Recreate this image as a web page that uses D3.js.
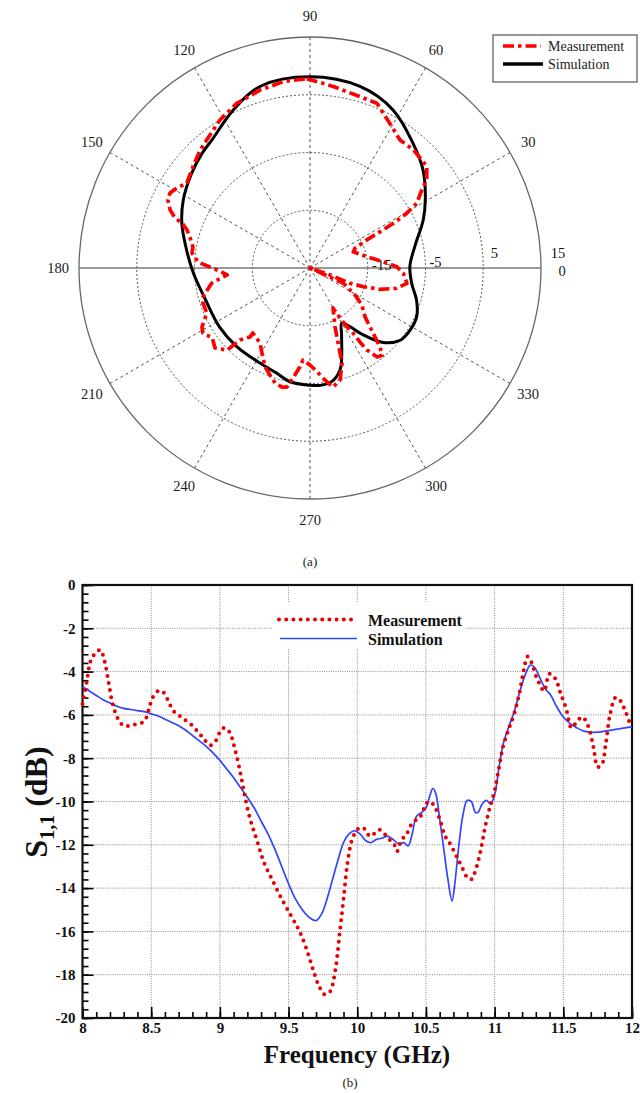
<!DOCTYPE html>
<html><head><meta charset="utf-8">
<script src="https://cdn.jsdelivr.net/npm/d3@7"></script>
<style>body{margin:0;background:#fff} svg text{font-family:"Liberation Serif","Times New Roman",serif}</style>
</head><body><svg id="c" width="640" height="1093"></svg>
<script>
// ---------- DATA (a) radiation pattern, angle in degrees, gain in dB ----------
const simAngles = [90,74.6,62.2,50.4,40.9,31,23,12,1,351.5,343,335.5,328.2,321.3,314.5,308.5,304.3,300,295.3,289,286.4,281,275,270,260,252.4,242.3,227,213,197.2,182.6,171.7,160.8,151.8,141.7,133.8,127,115.9,105.4];
const simGain = [8.1,7.6,5.9,3.0,0.9,-1.7,-3.7,-6.4,-7.7,-7.2,-5.7,-4.7,-4.6,-5.0,-6.9,-10.2,-12.7,-14.0,-12.2,-8.2,-6.6,-5.0,-4.6,-4.7,-5.0,-5.9,-6.4,-6.4,-6.3,-6.1,-4.8,-3.4,-1.5,-0.1,1.2,2.2,3.0,5.4,7.6];
const measAngles = [91,82.7,73.7,67.9,61.1,54.9,48.8,41,37,34.9,31.2,29.5,28.2,27.4,26.3,23.6,20.6,11.3,4.9,0.9,356.7,351,346.8,343.1,340.7,339.1,340.7,335,335.6,331.2,330.8,324.6,318.3,315.5,313.3,311.5,309.6,307,304.8,304,303.5,302.1,301,299.9,293,290.5,288.6,285,280.9,277.6,273.9,270,265.6,264.2,261.2,259.1,256.8,253.1,249.5,245.6,240.5,236.3,228.7,229,225.8,224.7,220.1,215.5,211.3,208.6,203.6,198.1,195.2,192.1,188.7,187.4,184.8,182.6,181.2,178.4,176.9,172.8,169.8,165.5,162.8,160.6,159.7,157.5,154.4,151.8,149,145.4,139.2,133,128.9,121.3,114,105.7,98.2];
const measGain = [7.8,6.7,5.9,5.8,3.6,2.1,2.2,1.8,0.3,-1.4,-3.4,-5.8,-8.6,-11.3,-14.1,-16.5,-17.0,-15.0,-12.3,-10.0,-8.8,-8.0,-9.6,-12.3,-15.2,-17.6,-21.3,-25,-18.7,-17.1,-16.5,-14.0,-12.2,-10.4,-8.6,-6.7,-5.4,-5.7,-7.7,-9.5,-11.5,-13.0,-14.9,-17.0,-13.9,-11.1,-7.6,-4.9,-4.0,-5.4,-7.0,-8.2,-9.0,-7.8,-5.7,-4.0,-3.8,-4.2,-5.2,-6.2,-8.1,-9.4,-10.0,-9.2,-7.6,-4.8,-3.5,-4.2,-3.3,-3.7,-5.5,-5.5,-5.8,-6.8,-7.8,-8.8,-10.6,-9.7,-8.9,-6.8,-5.6,-4.4,-4.4,-3.5,-2.7,-1.5,-0.1,1.2,2.3,2.5,1.9,0.9,1.8,2.9,3.5,5.0,6.2,7.0,7.6];
const angleTicks = [0,30,60,90,120,150,180,210,240,270,300,330];
const radialTicks = [-15,-5,5,15];
const polarSeries = ["Measurement","Simulation"];

// ---------- DATA (b) S11 ----------
const freqMeas = [8.00,8.03,8.06,8.10,8.13,8.16,8.19,8.22,8.26,8.30,8.35,8.40,8.45,8.48,8.51,8.55,8.58,8.62,8.66,8.72,8.80,8.87,8.93,8.97,9.00,9.03,9.07,9.11,9.15,9.18,9.22,9.27,9.32,9.38,9.45,9.52,9.58,9.63,9.68,9.72,9.76,9.80,9.84,9.87,9.90,9.93,9.96,9.99,10.02,10.06,10.09,10.12,10.16,10.20,10.24,10.27,10.29,10.32,10.36,10.40,10.44,10.47,10.50,10.53,10.56,10.60,10.64,10.68,10.72,10.76,10.80,10.83,10.86,10.90,10.93,10.96,11.00,11.03,11.06,11.10,11.14,11.18,11.21,11.24,11.27,11.30,11.33,11.36,11.40,11.44,11.48,11.52,11.56,11.60,11.64,11.68,11.72,11.75,11.78,11.81,11.84,11.88,11.91,11.95,11.98,12.00];
const s11Meas = [-5.5,-4.5,-3.5,-3.1,-3.0,-3.5,-4.5,-5.5,-6.2,-6.5,-6.5,-6.4,-6.3,-5.8,-5.2,-4.9,-4.9,-5.3,-5.8,-6.1,-6.5,-7.0,-7.4,-7.2,-6.8,-6.6,-6.8,-7.6,-8.7,-9.7,-10.8,-11.8,-12.8,-13.6,-14.5,-15.3,-16.0,-16.8,-17.8,-18.5,-18.9,-18.8,-17.8,-16.2,-14.5,-12.8,-11.8,-11.4,-11.2,-11.3,-11.6,-11.5,-11.3,-11.5,-11.8,-12.0,-12.3,-11.8,-11.5,-11.0,-10.8,-10.6,-10.1,-10.0,-10.2,-10.8,-11.6,-12.0,-12.5,-13.0,-13.5,-13.6,-13.2,-12.2,-11.2,-10.4,-9.5,-8.5,-7.5,-6.7,-6.0,-5.0,-4.0,-3.3,-3.6,-4.2,-4.6,-4.9,-4.1,-4.3,-5.0,-5.7,-6.6,-6.3,-6.1,-6.5,-7.5,-8.4,-8.3,-7.3,-6.0,-5.2,-5.3,-5.8,-6.3,-6.5];
const freqSim = [8.00,8.05,8.10,8.15,8.20,8.25,8.30,8.35,8.40,8.45,8.50,8.55,8.60,8.65,8.70,8.75,8.80,8.85,8.90,8.95,9.00,9.05,9.10,9.15,9.20,9.25,9.30,9.35,9.40,9.45,9.50,9.55,9.60,9.65,9.70,9.74,9.78,9.82,9.86,9.90,9.94,9.98,10.02,10.06,10.10,10.14,10.18,10.22,10.26,10.30,10.34,10.37,10.40,10.43,10.47,10.50,10.53,10.55,10.57,10.60,10.63,10.66,10.69,10.71,10.74,10.77,10.80,10.83,10.86,10.88,10.91,10.94,10.97,11.00,11.03,11.06,11.10,11.14,11.18,11.22,11.26,11.29,11.33,11.37,11.41,11.45,11.50,11.55,11.60,11.65,11.70,11.75,11.80,11.85,11.90,11.95,12.00];
const s11Sim = [-4.7,-4.9,-5.1,-5.3,-5.45,-5.6,-5.7,-5.75,-5.8,-5.85,-5.95,-6.05,-6.2,-6.35,-6.5,-6.7,-6.95,-7.2,-7.45,-7.75,-8.1,-8.5,-8.9,-9.35,-9.8,-10.3,-10.9,-11.5,-12.2,-13.0,-13.8,-14.5,-15.0,-15.35,-15.5,-15.2,-14.5,-13.6,-12.7,-11.9,-11.5,-11.35,-11.5,-11.8,-11.9,-11.75,-11.7,-11.6,-11.75,-11.95,-11.9,-12.05,-11.5,-10.7,-10.5,-10.3,-9.7,-9.4,-9.6,-10.8,-12.2,-13.6,-14.6,-13.8,-12.0,-10.6,-9.95,-10.0,-10.5,-10.5,-10.1,-9.95,-10.1,-9.7,-8.5,-7.4,-6.6,-5.9,-5.0,-4.2,-3.7,-3.8,-4.3,-4.8,-5.1,-5.6,-6.1,-6.4,-6.6,-6.75,-6.8,-6.8,-6.75,-6.7,-6.65,-6.6,-6.55];
const xTicks = [8,8.5,9,9.5,10,10.5,11,11.5,12];
const yTicks = [0,-2,-4,-6,-8,-10,-12,-14,-16,-18,-20];
const s11Series = ["Measurement","Simulation"];

// ---------- DRAW ----------
const svg = d3.select("#c");
const FONT = '"Liberation Serif","Times New Roman",serif';

// ===== (a) polar =====
const cx = 310, cy = 268, R = 231;
const rS = d3.scaleLinear().domain([-25, 15]).range([0, R]).clamp(true);
const toRad = d => (90 - d) * Math.PI / 180;
const gP = svg.append("g").attr("transform", `translate(${cx},${cy})`);

gP.selectAll("circle.ring").data(radialTicks.slice(0, -1)).join("circle")
  .attr("r", d => rS(d)).attr("fill", "none").attr("stroke", "#555")
  .attr("stroke-width", 1).attr("stroke-dasharray", "2,2");
gP.append("circle").attr("r", rS(15)).attr("fill", "none").attr("stroke", "#666").attr("stroke-width", 1.3);

angleTicks.filter(a => a % 180 !== 0).forEach(a => {
  const t = toRad(a);
  gP.append("line").attr("x1", 0).attr("y1", 0)
    .attr("x2", R * Math.sin(t)).attr("y2", -R * Math.cos(t))
    .attr("stroke", "#555").attr("stroke-width", 1).attr("stroke-dasharray", "3,3");
});
gP.append("line").attr("x1", -R).attr("x2", R).attr("y1", 0).attr("y2", 0)
  .attr("stroke", "#777").attr("stroke-width", 1.3);

// angle labels
angleTicks.forEach(a => {
  const t = toRad(a), rr = 252;
  gP.append("text").attr("x", rr * Math.sin(t)).attr("y", -rr * Math.cos(t) + (a === 0 ? 3 : 0))
    .attr("text-anchor", "middle").attr("dominant-baseline", "central")
    .attr("font-size", 14.5).attr("fill", "#1a1a1a").text(a);
});
// radial labels
const rLab = {"-15": [14, -3], "-5": [10, -6], "5": [11, -15], "15": [17, -15]};
radialTicks.forEach(v => {
  const o = rLab[String(v)];
  gP.append("text").attr("x", rS(v) + o[0]).attr("y", o[1])
    .attr("text-anchor", "middle").attr("dominant-baseline", "central")
    .attr("font-size", 14.5).attr("fill", "#111").text(v);
});

const radial = d3.lineRadial().angle(d => toRad(d[0])).radius(d => rS(d[1]));
gP.append("path").attr("d", radial.curve(d3.curveCatmullRomClosed.alpha(0.5))(d3.zip(simAngles, simGain)))
  .attr("fill", "none").attr("stroke", "#000").attr("stroke-width", 3);
gP.append("path").attr("d", radial.curve(d3.curveLinearClosed)(d3.zip(measAngles, measGain)))
  .attr("fill", "none").attr("stroke", "#ff0000").attr("stroke-width", 3.7)
  .attr("stroke-dasharray", "11,4,3.5,4").attr("stroke-linejoin", "round");

// legend (a)
const lg = svg.append("g");
lg.append("rect").attr("x", 493).attr("y", 35).attr("width", 144).attr("height", 47)
  .attr("fill", "#fff").attr("stroke", "#555").attr("stroke-width", 1.2);
lg.append("line").attr("x1", 503).attr("x2", 541).attr("y1", 46).attr("y2", 46)
  .attr("stroke", "#ff0000").attr("stroke-width", 3.5).attr("stroke-dasharray", "11,4,3.5,4");
lg.append("line").attr("x1", 503).attr("x2", 543).attr("y1", 64).attr("y2", 64)
  .attr("stroke", "#000").attr("stroke-width", 3.5);
polarSeries.forEach((s, i) => {
  lg.append("text").attr("x", 548).attr("y", 46 + i * 18).attr("dominant-baseline", "central")
    .attr("font-size", 14).attr("fill", "#222").text(s);
});
svg.append("text").attr("x", 310).attr("y", 566).attr("text-anchor", "middle")
  .attr("font-size", 13).attr("fill", "#222").text("(a)");

// ===== (b) S11 =====
const x = d3.scaleLinear().domain([8, 12]).range([82.5, 632]);
const y = d3.scaleLinear().domain([-20, 0]).range([1018, 585]);
const gB = svg.append("g");

// grid
gB.selectAll("line.gx").data(xTicks.slice(1, -1)).join("line")
  .attr("x1", d => x(d)).attr("x2", d => x(d)).attr("y1", y(0)).attr("y2", y(-20))
  .attr("stroke", "#888").attr("stroke-width", 1).attr("stroke-dasharray", "1,1.3");
gB.selectAll("line.gy").data(yTicks.slice(1, -1)).join("line")
  .attr("y1", d => y(d)).attr("y2", d => y(d)).attr("x1", x(8)).attr("x2", x(12))
  .attr("stroke", "#888").attr("stroke-width", 1).attr("stroke-dasharray", "1,1.3");

// legend background (hides grid)
gB.append("rect").attr("x", 272).attr("y", 603).attr("width", 193).attr("height", 45).attr("fill", "#fff");

// axes
const axY = gB.append("g").attr("transform", `translate(${x(8)},0)`)
  .call(d3.axisLeft(y).tickValues(yTicks).tickSizeInner(-11).tickSizeOuter(0).tickPadding(7).tickFormat(d => String(d)));
const axYm = gB.append("g").attr("transform", `translate(${x(8)},0)`)
  .call(d3.axisLeft(y).tickValues(d3.range(0, 51).map(i => -i * 0.4)).tickSizeInner(-6).tickSizeOuter(0).tickFormat(""));
const axX = gB.append("g").attr("transform", `translate(0,${y(-20)})`)
  .call(d3.axisBottom(x).tickValues(xTicks).tickSizeInner(-11).tickSizeOuter(0).tickPadding(4).tickFormat(d => String(d)));
const axXm = gB.append("g").attr("transform", `translate(0,${y(-20)})`)
  .call(d3.axisBottom(x).tickValues(d3.range(0, 41).map(i => 8 + i * 0.1)).tickSizeInner(-6).tickSizeOuter(0).tickFormat(""));
[axY, axYm, axX, axXm].forEach(g => {
  g.select(".domain").remove();
  g.selectAll("line").attr("stroke", "#000").attr("stroke-width", 1.6);
  g.selectAll("text").attr("font-family", FONT).attr("font-size", 15).attr("font-weight", "bold").attr("fill", "#111");
});

// frame
gB.append("rect").attr("x", x(8)).attr("y", y(0)).attr("width", x(12) - x(8)).attr("height", y(-20) - y(0))
  .attr("fill", "none").attr("stroke", "#111").attr("stroke-width", 2.2);

// curves
const line = d3.line().x(d => x(d[0])).y(d => y(d[1])).curve(d3.curveCatmullRom.alpha(0.5));
gB.append("path").attr("d", line(d3.zip(freqSim, s11Sim)))
  .attr("fill", "none").attr("stroke", "#3344ff").attr("stroke-width", 1.7);
gB.append("path").attr("d", line(d3.zip(freqMeas, s11Meas)))
  .attr("fill", "none").attr("stroke", "#e60000").attr("stroke-width", 4)
  .attr("stroke-dasharray", "0,7.2").attr("stroke-linecap", "round");

// legend (b)
gB.append("line").attr("x1", 279).attr("x2", 355).attr("y1", 619.5).attr("y2", 619.5)
  .attr("stroke", "#e60000").attr("stroke-width", 4).attr("stroke-dasharray", "0,7.2").attr("stroke-linecap", "round");
gB.append("line").attr("x1", 280).attr("x2", 357).attr("y1", 638.5).attr("y2", 638.5)
  .attr("stroke", "#3344ff").attr("stroke-width", 1.7);
s11Series.forEach((s, i) => {
  gB.append("text").attr("x", 368).attr("y", 620 + i * 19).attr("dominant-baseline", "central")
    .attr("font-size", 16).attr("font-weight", "bold").attr("fill", "#111").text(s);
});

// axis titles
const yl = svg.append("text").attr("transform", "translate(47,802) rotate(-90)")
  .attr("text-anchor", "middle").attr("font-size", 32).attr("font-weight", "bold").attr("fill", "#111");
yl.append("tspan").text("S");
yl.append("tspan").attr("font-size", 20).attr("dy", 7).text("1,1");
yl.append("tspan").attr("dy", -7).text(" (dB)");
svg.append("text").attr("x", 357).attr("y", 1063).attr("text-anchor", "middle")
  .attr("font-size", 25).attr("font-weight", "bold").attr("fill", "#111").text("Frequency (GHz)");
svg.append("text").attr("x", 350).attr("y", 1087).attr("text-anchor", "middle")
  .attr("font-size", 13).attr("fill", "#222").text("(b)");
</script></body></html>
